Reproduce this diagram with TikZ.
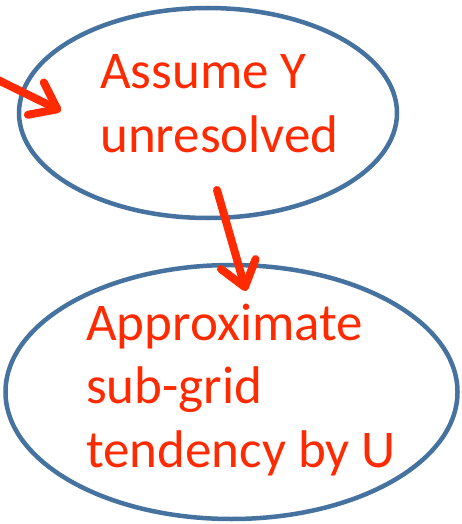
\documentclass[tikz,border=0pt]{standalone}
\usepackage{fontspec}
\setmainfont{Carlito}
\usetikzlibrary{shapes.geometric,arrows.meta}
\definecolor{ringblue}{RGB}{70,114,160}
\definecolor{hotred}{RGB}{255,42,0}
\tikzset{
  bubble/.style={ellipse,draw=ringblue,line width=4.5pt,inner sep=0pt},
  txt/.style={text=hotred,font=\fontsize{53}{63.5}\selectfont,align=left,inner sep=0pt},
  redarrow/.style={draw=hotred,line width=8pt,line cap=round,
    -{Straight Barb[length=24pt,width=36pt,line width=8pt,round]}}
}
\begin{document}
\begin{tikzpicture}[x=1pt,y=-1pt]
\useasboundingbox (0,0) rectangle (461,524);
\node[bubble,minimum width=378pt,minimum height=210pt] (top) at (208,113) {};
\node[bubble,minimum width=452pt,minimum height=254pt] (bottom) at (231.5,392) {};
\node[txt,anchor=base west] (toptext) at (100,152) {Assume Y\\unresolved};
\node[txt,anchor=base west] (bottext) at (86,467) {Approximate\\sub-grid\\tendency by U};
\coordinate (in) at (-6,78);
\coordinate (intip) at (61,111);
\coordinate (downstart) at (217,190);
\coordinate (downtip) at (246,291);
\draw[redarrow] (in) -- (intip);
\draw[redarrow] (downstart) -- (downtip);
\end{tikzpicture}
\end{document}
